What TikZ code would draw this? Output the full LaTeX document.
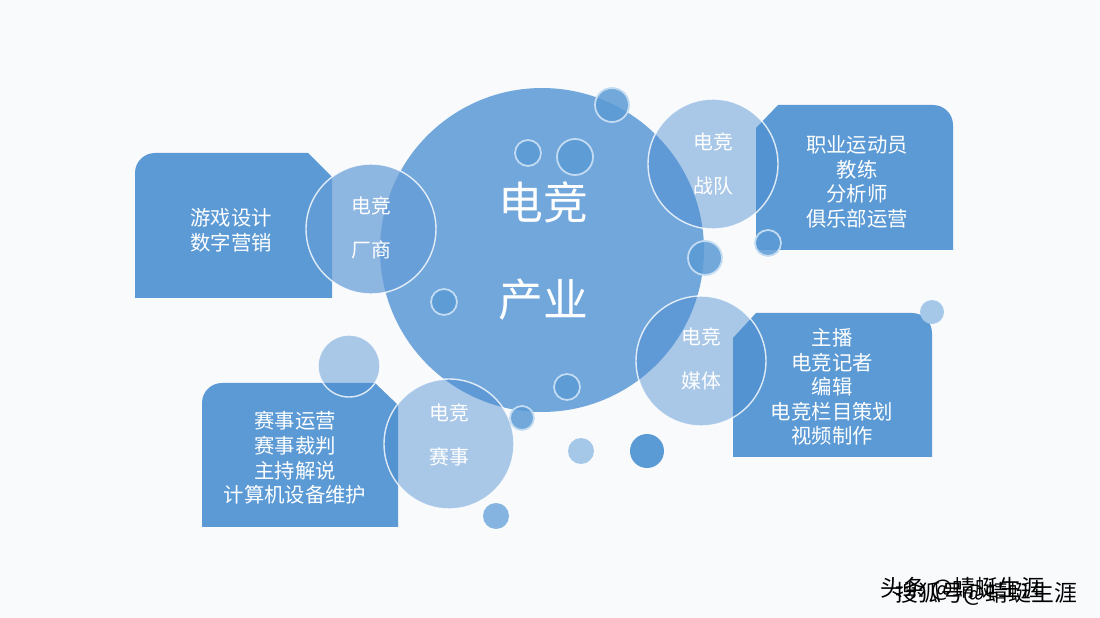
\documentclass[tikz,border=0pt]{standalone}
\usepackage{fontspec}
\setmainfont{Noto Sans CJK SC}
\definecolor{boxblue}{HTML}{5B9AD5}
\definecolor{hubblue}{HTML}{72A7DC}
\definecolor{ringblue}{HTML}{4A8CD0}
\definecolor{dotblue}{HTML}{5B9BD5}
\definecolor{dotline}{HTML}{C4DCF2}
\definecolor{bggrey}{HTML}{F8FAFC}
\begin{document}
\begin{tikzpicture}[x=0.02cm,y=-0.02cm]
\tikzstyle{every node}=[text=white,inner sep=0pt];
\tikzstyle{ring}=[circle,minimum size=2.6cm,fill=ringblue,fill opacity=0.45,draw=white,draw opacity=0.8,line width=0.8pt];
\tikzstyle{dot}=[circle,fill=dotblue,fill opacity=0.85,draw=dotline,line width=1pt];
\tikzstyle{paledot}=[circle,fill=dotblue!55];
\tikzstyle{boxtext}=[align=center,font=\fontsize{11.6}{14}\selectfont];
\tikzstyle{tag}=[align=center,font=\fontsize{11.3}{25}\selectfont];
\useasboundingbox (0,0) rectangle (1100,618);
\fill[bggrey] (0,0) rectangle (1100,618);
% boxes
\fill[boxblue] (332,298) -- (135,298) -- (135,173) to[out=90,in=180] (155,153) -- (308,153) -- (332,177) -- cycle;
\fill[boxblue] (756,250) -- (756,128) -- (778,105) -- (933,105) to[out=0,in=90] (953,125) -- (953,250) -- cycle;
\fill[boxblue] (733,457) -- (733,338) -- (756,313) -- (912,313) to[out=0,in=90] (932,333) -- (932,457) -- cycle;
\fill[boxblue] (398,527) -- (202,527) -- (202,403) to[out=90,in=180] (222,383) -- (375,383) -- (398,405) -- cycle;
\node[boxtext] (changshang-t) at (231,230) {游戏设计\\数字营销};
\node[boxtext] (zhandui-t) at (857,182) {职业运动员\\教练\\分析师\\俱乐部运营};
\node[boxtext] (meiti-t) at (832,387) {主播\\电竞记者\\编辑\\电竞栏目策划\\视频制作};
\node[boxtext] (saishi-t) at (295,458) {赛事运营\\赛事裁判\\主持解说\\计算机设备维护};
% hub
\node[circle,fill=hubblue,minimum size=6.48cm] (hub) at (542,250) {};
\node[align=center,font=\fontsize{25.5}{55.6}\selectfont] (hubtext) at (543,251) {电竞\\产业};
% rings
\node[ring,fill=ringblue!85!white,fill opacity=0.72] (changshang) at (371,229) {};
\node[ring] (zhandui) at (713,164) {};
\node[ring] (meiti) at (701,361) {};
\node[ring] (saishi) at (449,444) {};
\node[ring,minimum size=1.24cm] (r1) at (349,366) {};
% dots
\node[dot,minimum size=0.68cm] (d1) at (612,105) {};
\node[dot,minimum size=0.52cm] (d2) at (528,153) {};
\node[dot,minimum size=0.72cm] (d3) at (575,157) {};
\node[dot,minimum size=0.52cm] (d4) at (444,302) {};
\node[dot,minimum size=0.52cm] (d5) at (567,387) {};
\node[dot,minimum size=0.68cm] (d6) at (705,258) {};
\node[dot,minimum size=0.52cm] (d7) at (768,243) {};
\node[dot,minimum size=0.48cm] (d8) at (522,418) {};
\node[circle,fill=dotblue,minimum size=0.68cm] (d9) at (647,451) {};
\node[paledot,minimum size=0.48cm] (d10) at (932,312) {};
\node[paledot,minimum size=0.52cm] (d11) at (581,451) {};
\node[circle,fill=dotblue!75,minimum size=0.52cm] (d12) at (496,516) {};
% ring labels
\node[tag] (changshang-l) at (371,228) {电竞\\厂商};
\node[tag] (zhandui-l) at (713,164) {电竞\\战队};
\node[tag] (meiti-l) at (701,359) {电竞\\媒体};
\node[tag] (saishi-l) at (449,435) {电竞\\赛事};
% watermark
\node[text=black,anchor=west,font=\fontsize{13}{15}\selectfont] (wm1) at (880,589) {头条 @蜻蜓生涯};
\node[text=black,anchor=west,font=\fontsize{13}{15}\selectfont] (wm2) at (895,594) {搜狐号@蜻蜓生涯};
\end{tikzpicture}
\end{document}
